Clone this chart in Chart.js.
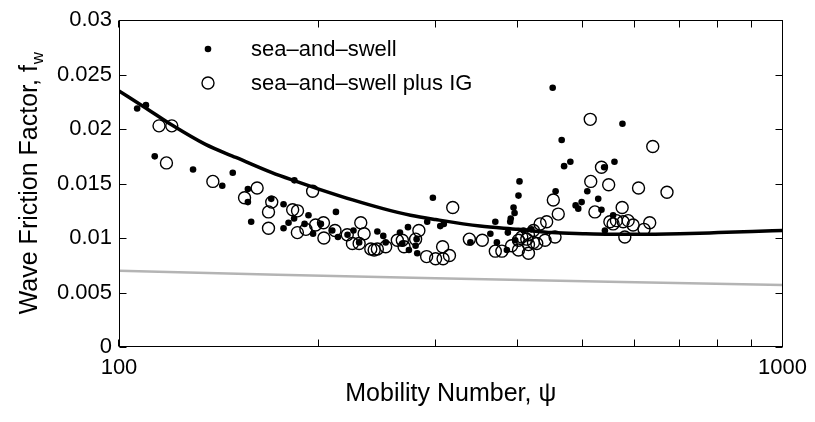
<!DOCTYPE html>
<html>
<head>
<meta charset="utf-8">
<script src="https://cdn.jsdelivr.net/npm/chart.js@4.4.1/dist/chart.umd.min.js"></script>
<style>
  html, body { margin: 0; padding: 0; background: #fff; }
  #wrap { width: 815px; height: 422px; position: relative; }
</style>
</head>
<body>
<div id="wrap"><canvas id="c" width="815" height="422"></canvas></div>
<script>
// ---- data ----
const seaSwellPsi = [106.5,109.8,113.2,129.3,148.4,143.1,156.4,156.4,169.6,177.0,183.8,212.3,158.2,177.0,180.1,183.6,193.0,190.4,196.1,201.5,209.6,213.8,221.0,225.6,230.1,245.1,250.2,252.3,265.1,272.6,267.3,273.5,279.9,280.9,281.5,291.4,304.9,297.2,308.7,338.5,369.1,362.8,371.1,388.7,389.4,394.6,393.2,400.0,401.4,385.5,395.5,407.1,418.4,384.2,450.4,573.8,464.7,468.6,478.9,558.1,538.5,455.0,507.9,527.5,487.7,498.0,492.2,533.5,555.5,539.9];
const seaSwellFw  = [0.0219,0.0222,0.0175,0.0163,0.0160,0.0148,0.0145,0.0133,0.0136,0.0131,0.0153,0.0124,0.0115,0.0109,0.0114,0.0118,0.0121,0.0113,0.0104,0.0113,0.0107,0.0101,0.0103,0.0107,0.0096,0.0106,0.0102,0.0096,0.0105,0.0110,0.0095,0.0089,0.0093,0.0099,0.0086,0.0115,0.0111,0.0137,0.0113,0.0096,0.0115,0.0104,0.0096,0.0115,0.0118,0.0123,0.0128,0.0139,0.0152,0.0105,0.0098,0.0107,0.0108,0.0089,0.0238,0.0205,0.0190,0.0166,0.0170,0.0170,0.0165,0.0143,0.0143,0.0136,0.0130,0.0133,0.0127,0.0126,0.0121,0.0107];

const seaSwellIGPsi = [114.9,120.1,117.9,138.5,161.5,154.6,169.9,195.8,182.7,185.8,168.0,168.0,185.7,191.3,197.8,203.3,203.6,211.6,220.8,231.4,224.8,234.1,230.1,239.6,242.4,245.1,252.3,262.7,267.3,268.9,283.1,279.9,290.8,300.0,307.4,307.9,318.4,314.8,337.3,352.8,369.1,377.6,390.5,400.0,414.1,414.1,421.3,431.2,441.1,404.6,400.0,411.7,421.3,414.1,426.2,438.6,454.1,451.4,459.2,513.1,637.4,533.5,514.0,547.0,606.7,669.7,521.5,573.2,549.3,561.9,575.2,585.2,595.4,578.5,555.5,618.4,630.7];
const seaSwellIGFw  = [0.0203,0.0203,0.0169,0.0152,0.0146,0.0137,0.0133,0.0143,0.0126,0.0125,0.0124,0.0109,0.0105,0.0108,0.0112,0.0114,0.0100,0.0107,0.0103,0.0114,0.0095,0.0104,0.0095,0.0090,0.0089,0.0090,0.0092,0.0098,0.0098,0.0092,0.0107,0.0099,0.0083,0.0081,0.0092,0.0081,0.0128,0.0084,0.0099,0.0098,0.0088,0.0088,0.0093,0.0089,0.0086,0.0094,0.0107,0.0113,0.0115,0.0101,0.0098,0.0099,0.0096,0.0103,0.0095,0.0098,0.0101,0.0135,0.0122,0.0209,0.0184,0.0165,0.0152,0.0149,0.0146,0.0142,0.0124,0.0128,0.0115,0.0116,0.0115,0.0116,0.0112,0.0101,0.0113,0.0108,0.0114];

// black fitted curve, read at several mobility numbers
const fitPsi = [100,110,120,135,150,170,185,200,225,250,275,300,350,400,450,500,550,600,700,800,900,1000];
const fitFw  = [0.0235,0.0219,0.0204,0.0186,0.0174,0.0160,0.0152,0.0145,0.0135,0.0127,0.0121,0.0117,0.0111,0.0108,0.0105,0.01040,0.01035,0.01035,0.01040,0.0105,0.0106,0.0107];

// grey line
const greyPsi = [100,300,1000];
const greyFw  = [0.0070,0.0063,0.0057];

// ticks
const xTickValues = [100,200,300,400,500,600,700,800,900,1000];
const xTickLabels = [100,1000];
const yTickValues = [0,0.005,0.01,0.015,0.02,0.025,0.03];
const yTickLabels = ['0','0.005','0.01','0.015','0.02','0.025','0.03'];

const seriesNames = ['sea\u2013and\u2013swell','sea\u2013and\u2013swell plus IG'];

const FONT = "'Liberation Sans', Arial, Helvetica, sans-serif";
const zip = (xs, ys) => xs.map((x, i) => ({x: x, y: ys[i]}));

const framePlugin = {
  id: 'frame',
  afterDraw(chart) {
    const {ctx, chartArea: a, scales: {x, y}} = chart;
    ctx.save();
    ctx.strokeStyle = '#000';
    ctx.lineWidth = 1;
    const L = Math.round(a.left) + 0.5, R = Math.round(a.right) - 0.5;
    const T = Math.round(a.top) + 0.5, B = Math.round(a.bottom) - 0.5;
    ctx.strokeRect(L, T, R - L, B - T);
    const tl = 7;
    ctx.beginPath();
    xTickValues.forEach(v => {
      const px = Math.round(x.getPixelForValue(v)) - 0.5;
      ctx.moveTo(px, B); ctx.lineTo(px, B - tl);
      ctx.moveTo(px, T); ctx.lineTo(px, T + tl);
    });
    yTickValues.forEach(v => {
      const py = Math.round(y.getPixelForValue(v)) + 0.5;
      ctx.moveTo(L, py); ctx.lineTo(L + tl, py);
      ctx.moveTo(R, py); ctx.lineTo(R - tl, py);
    });
    ctx.stroke();

    // legend
    const ds = chart.data.datasets;
    ctx.fillStyle = '#000';
    ctx.beginPath(); ctx.arc(208, 49, ds[0].pointRadius, 0, Math.PI * 2); ctx.fill();
    ctx.lineWidth = ds[1].borderWidth;
    ctx.beginPath(); ctx.arc(208, 83, ds[1].pointRadius, 0, Math.PI * 2); ctx.stroke();
    ctx.font = '22px ' + FONT;
    ctx.textBaseline = 'middle';
    ctx.textAlign = 'left';
    ctx.fillText(ds[0].label, 251, 50);
    ctx.fillText(ds[1].label, 251, 84);

    // axis titles
    ctx.font = '25px ' + FONT;
    ctx.textAlign = 'center';
    ctx.textBaseline = 'alphabetic';
    ctx.fillText('Mobility Number, \u03C8', (a.left + a.right) / 2, 401);

    ctx.save();
    ctx.translate(37, (a.top + a.bottom) / 2);
    ctx.rotate(-Math.PI / 2);
    const main = 'Wave Friction Factor, f';
    ctx.font = '25px ' + FONT;
    const w1 = ctx.measureText(main).width;
    ctx.font = '17px ' + FONT;
    const w2 = ctx.measureText('w').width;
    const start = -(w1 + w2) / 2;
    ctx.textAlign = 'left';
    ctx.font = '25px ' + FONT;
    ctx.fillText(main, start, 0);
    ctx.font = '17px ' + FONT;
    ctx.fillText('w', start + w1 + 1, 6);
    ctx.restore();
    ctx.restore();
  }
};

new Chart(document.getElementById('c'), {
  type: 'scatter',
  data: {
    datasets: [
      {
        label: seriesNames[0],
        data: zip(seaSwellPsi, seaSwellFw),
        pointStyle: 'circle',
        pointRadius: 3.3,
        backgroundColor: '#000',
        borderColor: '#000',
        borderWidth: 0,
        order: 0
      },
      {
        label: seriesNames[1],
        data: zip(seaSwellIGPsi, seaSwellIGFw),
        pointStyle: 'circle',
        pointRadius: 6,
        backgroundColor: 'rgba(0,0,0,0)',
        borderColor: '#000',
        borderWidth: 1.4,
        order: 1
      },
      {
        type: 'line',
        label: 'fit',
        data: zip(fitPsi, fitFw),
        borderColor: '#000',
        borderWidth: 3.5,
        pointRadius: 0,
        fill: false,
        cubicInterpolationMode: 'monotone',
        order: 2
      },
      {
        type: 'line',
        label: 'grey',
        data: zip(greyPsi, greyFw),
        borderColor: '#b4b4b4',
        borderWidth: 2.5,
        pointRadius: 0,
        fill: false,
        tension: 0.3,
        order: 3
      }
    ]
  },
  options: {
    responsive: false,
    animation: false,
    devicePixelRatio: 1,
    layout: { padding: { top: 15, right: 30, left: 0, bottom: 0 } },
    plugins: { legend: { display: false }, tooltip: { enabled: false }, title: { display: false } },
    scales: {
      x: {
        type: 'logarithmic',
        min: 100, max: 1000,
        afterBuildTicks: s => { s.ticks = xTickValues.map(v => ({value: v})); },
        afterFit: s => { s.height = 75; },
        grid: { display: false, drawTicks: false },
        border: { display: false },
        ticks: {
          autoSkip: false, maxRotation: 0, padding: 8, color: '#000',
          font: { family: FONT, size: 22 },
          callback: v => xTickLabels.includes(v) ? String(v) : ''
        }
      },
      y: {
        type: 'linear',
        min: 0, max: 0.03,
        afterBuildTicks: s => { s.ticks = yTickValues.map(v => ({value: v})); },
        afterFit: s => { s.width = 119; },
        grid: { display: false, drawTicks: false },
        border: { display: false },
        ticks: {
          autoSkip: false, padding: 7, color: '#000',
          font: { family: FONT, size: 22 },
          callback: (v, i) => yTickLabels[yTickValues.findIndex(t => Math.abs(t - v) < 1e-9)]
        }
      }
    }
  },
  plugins: [framePlugin]
});
</script>
</body>
</html>
